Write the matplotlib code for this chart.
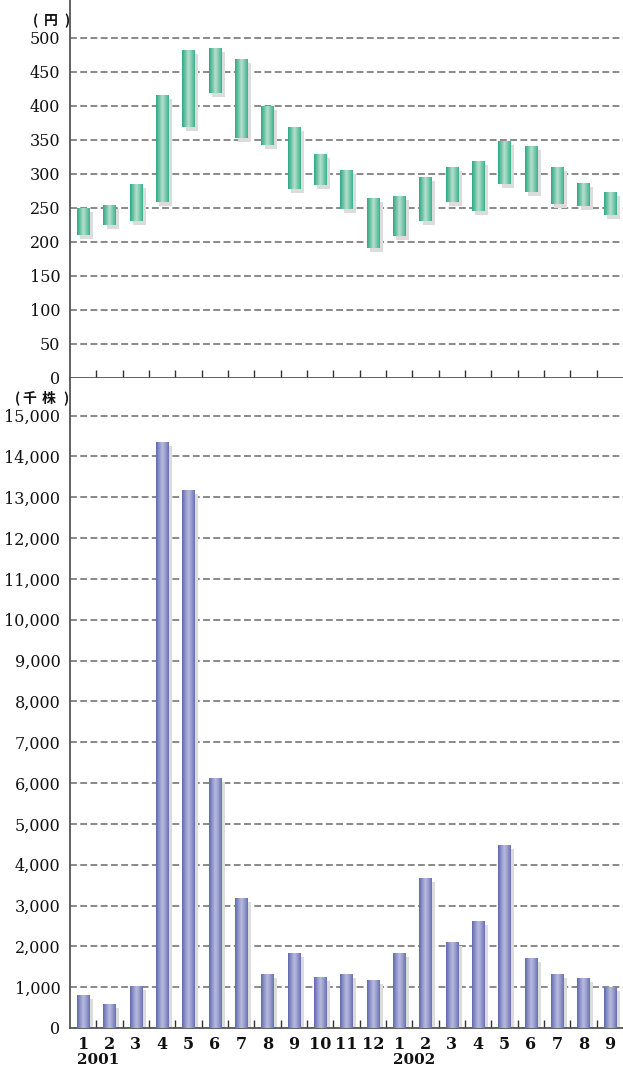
import numpy as np
import matplotlib
matplotlib.use("Agg")
import matplotlib.pyplot as plt
from matplotlib.colors import LinearSegmentedColormap
from matplotlib.transforms import ScaledTranslation

# Monthly share price range (yen) and trading volume (thousand shares), Jan 2001 - Sep 2002
months = ["1", "2", "3", "4", "5", "6", "7", "8", "9", "10", "11", "12",
          "1", "2", "3", "4", "5", "6", "7", "8", "9"]
years = ["2001", "2002"]
year_start_idx = [0, 12]

price_high = [250, 254, 285, 416, 482, 485, 469, 400, 369, 329, 305, 265,
              267, 295, 310, 319, 348, 341, 310, 286, 273]
price_low = [210, 225, 230, 259, 369, 419, 353, 343, 277, 284, 248, 191,
             209, 230, 259, 246, 285, 274, 256, 253, 240]

volume = [810, 590, 1030, 14350, 13170, 6120, 3180, 1320, 1840, 1250, 1320, 1170,
          1840, 3670, 2100, 2620, 4480, 1710, 1320, 1220, 1000]

price_ticks = list(range(0, 501, 50))
volume_ticks = list(range(0, 15001, 1000))

W, H = 623, 1069
DPI = 100
fig = plt.figure(figsize=(W / DPI, H / DPI), dpi=DPI)

SERIF = ["DejaVu Serif"]
CJK = ["Noto Sans CJK JP", "DejaVu Sans"]
FS = 11.5

left_px, right_px = 70, 623
top_axis_y, mid_axis_y, bottom_axis_y = 0, 378, 1028


def px_rect(x0, y0, x1, y1):
    return [x0 / W, 1 - y1 / H, (x1 - x0) / W, (y1 - y0) / H]


ax_p = fig.add_axes(px_rect(left_px, top_axis_y, right_px, mid_axis_y))
ax_v = fig.add_axes(px_rect(left_px, mid_axis_y, right_px, bottom_axis_y))

green_cmap = LinearSegmentedColormap.from_list(
    "green", ["#2aa987", "#6ec3a5", "#b8e0cf", "#7cc9ad", "#38b390"])
blue_cmap = LinearSegmentedColormap.from_list(
    "blue", ["#5f68ad", "#8f95c9", "#b8bbdf", "#959bcc", "#6870b3"])
grad = np.linspace(0, 1, 64).reshape(1, -1)

GRID = dict(color="#6a6a6a", lw=1.1, ls=(0, (4.5, 2.2)), zorder=1)
SPINE = "#555555"
SHADOW = "#dcdcdc"
n = len(months)
x = np.arange(n) + 0.5
bar_w = 0.48
shadow_off = ScaledTranslation(3.5 / DPI, -4 / DPI, fig.dpi_scale_trans)


def gradient_bars(ax, bottoms, heights, cmap):
    ax.bar(x, heights, bar_w, bottom=bottoms, color=SHADOW, lw=0,
           transform=ax.transData + shadow_off, zorder=2)
    bars = ax.bar(x, heights, bar_w, bottom=bottoms, color="none", lw=0, zorder=3)
    for p in bars.patches:
        x0, y0 = p.get_x(), p.get_y()
        im = ax.imshow(grad, cmap=cmap, aspect="auto", interpolation="bilinear",
                       extent=(x0, x0 + p.get_width(), y0, y0 + p.get_height()),
                       zorder=3)
        im.set_clip_path(p)


def style_axes(ax, ymax, ticks, fmt, gridvals):
    for v in gridvals:
        ax.axhline(v, **GRID)
    ax.set_xlim(0, n)
    ax.set_ylim(0, ymax)
    ax.set_yticks(ticks)
    ax.set_yticklabels([fmt(t) for t in ticks], fontfamily=SERIF, fontsize=FS,
                       color="#111111")
    ax.tick_params(axis="y", length=0, pad=7)
    ax.set_xticks(np.arange(1, n))
    ax.tick_params(axis="x", which="major", direction="in", length=6, width=1,
                   color="#333333", labelbottom=False)
    for s in ("top", "right"):
        ax.spines[s].set_visible(False)
    for s in ("left", "bottom"):
        ax.spines[s].set_color(SPINE)
        ax.spines[s].set_linewidth(1.3)


# Price range chart
style_axes(ax_p, 555.4, price_ticks, lambda t: f"{t}", price_ticks[1:])
gradient_bars(ax_p, price_low, np.array(price_high) - np.array(price_low), green_cmap)
ax_p.set_xlim(0, n)
ax_p.set_ylim(0, 555.4)

# Volume chart
style_axes(ax_v, 15920, volume_ticks, lambda t: f"{t:,}", volume_ticks[1:])
gradient_bars(ax_v, np.zeros(n), volume, blue_cmap)
ax_v.set_xlim(0, n)
ax_v.set_ylim(0, 15920)

ax_v.set_xticks(x, minor=True)
ax_v.set_xticklabels(months, minor=True, fontfamily=SERIF, fontweight="bold",
                     fontsize=FS, color="#111111")
ax_v.tick_params(axis="x", which="minor", length=0, pad=6)

for label, i in zip(years, year_start_idx):
    ax_v.annotate(label, xy=(x[i], 0), xycoords="data",
                  xytext=(-6, -32), textcoords="offset pixels",
                  ha="left", va="center", fontfamily=SERIF, fontweight="bold",
                  fontsize=11, color="#111111", annotation_clip=False)


# Unit captions, laid out glyph by glyph with wide bracket spacing
def unit_caption(parts, xs, y):
    for ch, xp in zip(parts, xs):
        fig.text(xp / W, 1 - y / H, ch, ha="center", va="center",
                 fontfamily=CJK, fontweight="bold", fontsize=10, color="#111111")


unit_caption(["(", "円", ")"], [35.5, 51, 66.5], 21)
unit_caption(["(", "千", "株", ")"], [17.5, 29.5, 48.5, 65.5], 399)

fig.savefig("out.png", dpi=DPI)
